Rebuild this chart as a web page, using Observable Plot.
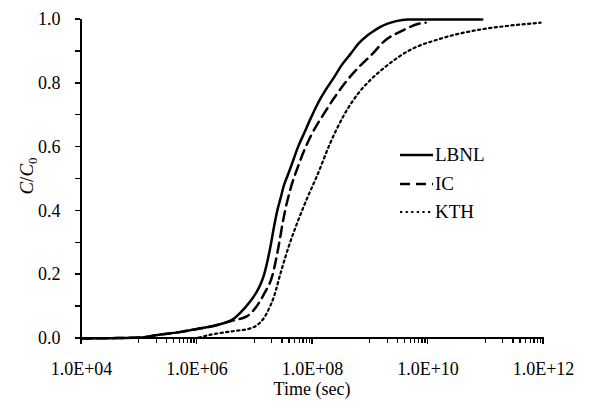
<!DOCTYPE html>
<html><head><meta charset="utf-8">
<script src="https://cdn.jsdelivr.net/npm/d3@7"></script>
<script src="https://cdn.jsdelivr.net/npm/@observablehq/plot@0.6"></script>
<style>
body{margin:0;background:#fff}
#wrap{position:relative;width:615px;height:401px;font-family:'Liberation Serif','Times New Roman',serif;color:#000}
.ov{position:absolute;white-space:nowrap}
.leg{position:absolute;left:400px;height:20px;display:flex;align-items:center;font-size:19px;line-height:20px}
.leg svg{display:block}
.ax{position:absolute;background:#000}
</style>
</head><body><div id="wrap"><div id="chart"></div></div>
<script>
// Series data (time in seconds, C/C0)
const seriesNames = ["LBNL", "IC", "KTH"];
const lbnlTime = [1e4, 3.2e4, 1e5, 2.2e5, 5e5, 1e6, 2e6, 3e6, 3.8e6, 4.6e6, 5.6e6, 8.5e6, 1.07e7, 1.26e7, 1.45e7, 1.66e7, 1.9e7, 2.14e7, 2.45e7, 2.8e7, 3.2e7, 3.7e7, 4.6e7, 5.6e7, 7.1e7, 9.3e7, 1.23e8, 1.7e8, 2.34e8, 3.2e8, 4.6e8, 6.3e8, 8.9e8, 1.17e9, 1.5e9, 2e9, 2.8e9, 4.4e9, 8.7e10];
const lbnlC    = [0, 0.001, 0.003, 0.012, 0.02, 0.03, 0.04, 0.049, 0.056, 0.066, 0.08, 0.118, 0.145, 0.17, 0.2, 0.243, 0.295, 0.347, 0.40, 0.44, 0.48, 0.51, 0.557, 0.60, 0.642, 0.69, 0.736, 0.78, 0.818, 0.857, 0.893, 0.925, 0.95, 0.965, 0.977, 0.987, 0.995, 1.0, 1.0];
const icTime = [1e4, 3.2e4, 1e5, 2.2e5, 5e5, 1e6, 2e6, 3.9e6, 7.4e6, 9.3e6, 1.45e7, 2.04e7, 2.63e7, 3.16e7, 4.17e7, 5.5e7, 7.4e7, 1e8, 1.58e8, 2.5e8, 4e8, 6.3e8, 1.1e9, 1.7e9, 3.6e9, 7.4e9, 9.1e9];
const icC    = [0, 0.001, 0.003, 0.012, 0.02, 0.03, 0.04, 0.055, 0.07, 0.086, 0.14, 0.2, 0.296, 0.378, 0.47, 0.535, 0.595, 0.645, 0.705, 0.76, 0.81, 0.85, 0.893, 0.93, 0.965, 0.988, 0.99];
const kthTime = [1.07e6, 1.74e6, 3.8e6, 8.5e6, 1.12e7, 1.45e7, 1.78e7, 2.14e7, 2.8e7, 3.9e7, 5.5e7, 8.1e7, 1.23e8, 2e8, 3.5e8, 6e8, 1e9, 1.78e9, 4.4e9, 1.66e10, 6.2e10, 2.4e11, 8.9e11];
const kthC    = [0.003, 0.012, 0.022, 0.032, 0.043, 0.065, 0.095, 0.13, 0.205, 0.29, 0.365, 0.44, 0.515, 0.61, 0.70, 0.765, 0.81, 0.85, 0.90, 0.94, 0.965, 0.98, 0.99];

// Axis ticks
const xMajorTicks = [1e4, 1e6, 1e8, 1e10, 1e12];
const xTickLabels = ["1.0E+04", "1.0E+06", "1.0E+08", "1.0E+10", "1.0E+12"];
const xMinorTicks = [];
for (const base of [1e5, 1e7, 1e9, 1e11]) for (let k = 1; k <= 9; k++) xMinorTicks.push(k * base);
const yMajorTicks = [0, 0.2, 0.4, 0.6, 0.8, 1.0];
const yTickLabels = ["0.0", "0.2", "0.4", "0.6", "0.8", "1.0"];
const yMinorTicks = [0.1, 0.3, 0.5, 0.7, 0.9];

const toRows = (ts, cs) => ts.map((t, i) => ({t, c: cs[i]}));
const styles = [
  {strokeWidth: 2.5, dash: undefined},
  {strokeWidth: 2.5, dash: "10,6"},
  {strokeWidth: 2.2, dash: "2.2,3.4"}
];
const data = [toRows(lbnlTime, lbnlC), toRows(icTime, icC), toRows(kthTime, kthC)];

const font = "'Liberation Serif', 'Times New Roman', serif";
const plot = Plot.plot({
  width: 615, height: 401,
  marginLeft: 81, marginRight: 72, marginTop: 19, marginBottom: 63,
  style: {fontFamily: font, fontSize: "18px", color: "#000", background: "#fff", overflow: "visible"},
  x: {type: "log", domain: [1e4, 1e12]},
  y: {domain: [0, 1]},
  marks: [
    Plot.axisX(xMajorTicks, {tickSize: 0, tickPadding: 24, tickFormat: d => xTickLabels[xMajorTicks.indexOf(d)], label: null}),
    Plot.axisY(yMajorTicks, {tickSize: 0, tickPadding: 21, tickFormat: d => yTickLabels[yMajorTicks.indexOf(d)], label: null}),
    ...data.map((rows, i) => Plot.line(rows, {
      x: "t", y: "c", stroke: "#000", strokeWidth: styles[i].strokeWidth,
      strokeDasharray: styles[i].dash, curve: "monotone-x"
    }))
  ]
});
document.getElementById("chart").appendChild(plot);
const wrap = document.getElementById("wrap");

// Axis lines and tick marks as solid blocks, positioned with Plot's own scales
const xs = plot.scale("x"), ys = plot.scale("y");
const px = v => xs.apply(v), py = v => ys.apply(v);
const x0 = px(xMajorTicks[0]), x1 = px(xMajorTicks[xMajorTicks.length - 1]);
const y0 = py(0), y1 = py(1);
function block(left, top, w, h) {
  const d = document.createElement("div");
  d.className = "ax";
  d.style.left = left + "px"; d.style.top = top + "px";
  d.style.width = w + "px"; d.style.height = h + "px";
  wrap.appendChild(d);
}
block(x0 - 1, y0 - 1, x1 - x0 + 2, 2);            // x axis line
block(x0 - 1, y1, 2, y0 - y1 + 1);                // y axis line
for (const t of xMinorTicks) block(px(t) - 0.6, y0, 1.3, 4.5);
for (const t of xMajorTicks) block(px(t) - 0.75, y0, 1.5, 6);
for (const t of [...yMajorTicks, ...yMinorTicks]) block(x0 - 6, py(t) - 0.75, 5, 1.5);

// Axis titles and legend
const xt = document.createElement("div");
xt.className = "ov";
xt.style.cssText = "left:212px;top:380px;width:200px;text-align:center;font-size:18px;line-height:18px";
xt.textContent = "Time (sec)";
wrap.appendChild(xt);

const yt = document.createElement("div");
yt.className = "ov";
yt.style.cssText = "left:-23px;top:165px;width:100px;height:22px;text-align:center;font-size:19px;line-height:22px;transform:rotate(-90deg);transform-origin:50% 50%";
yt.innerHTML = "<i>C</i>/<i>C</i><span style='font-size:13px;vertical-align:-4px'>0</span>";
wrap.appendChild(yt);

seriesNames.forEach((name, i) => {
  const y = 155 + i * 28.5;
  const row = document.createElement("div");
  row.className = "leg";
  row.style.top = (y - 10) + "px";
  const dash = styles[i].dash ? ` stroke-dasharray="${styles[i].dash}"` : "";
  row.innerHTML = `<svg width="35" height="20"><line x1="0" x2="33" y1="10" y2="10" stroke="#000" stroke-width="${styles[i].strokeWidth}"${dash}/></svg><span>${name}</span>`;
  wrap.appendChild(row);
});
</script>
</body></html>
